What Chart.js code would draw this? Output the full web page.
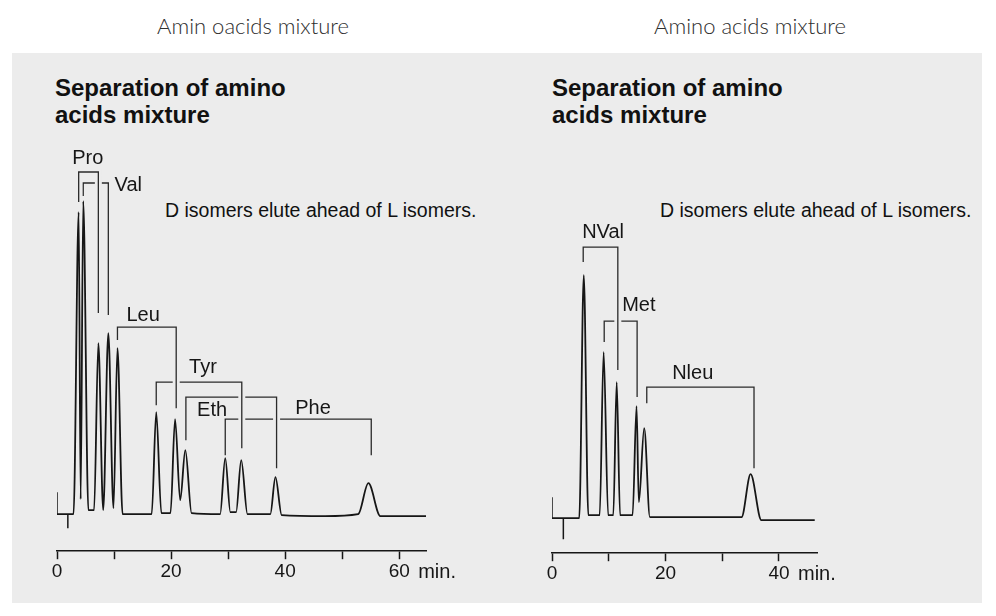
<!DOCTYPE html>
<html lang="en">
<head>
    <meta charset="UTF-8">
    <title>Amino acids mixture</title>
    <style>
        body {
            margin: 0;
            width: 996px;
            height: 616px;
            background: #fff;
            font-family: "Liberation Sans", Arial, Helvetica, sans-serif;
            color: #111;
            position: relative;
            overflow: hidden;
        }
        .heading {
            position: absolute;
            top: 12px;
            width: 300px;
            text-align: center;
            font-family: Lato, "Open Sans", sans-serif;
            font-weight: 300;
            font-size: 22px;
            color: #2e2e2e;
        }
        #panel {
            position: absolute;
            left: 12px;
            top: 53px;
            width: 970px;
            height: 550px;
            background: #ececec;
        }
        .title {
            position: absolute;
            top: 74px;
            font-weight: bold;
            font-size: 24px;
            line-height: 27px;
        }
        .note {
            position: absolute;
            top: 200px;
            font-size: 19.5px;
            line-height: 20px;
        }
        canvas {
            position: absolute;
            top: 53px;
        }
    </style>
</head>
<body>
    <div class="heading" style="left:103px">Amin oacids mixture</div>
    <div class="heading" style="left:600px">Amino acids mixture</div>
    <div id="panel"></div>
    <div class="title" style="left:55px">Separation of amino<br>acids mixture</div>
    <div class="title" style="left:552px">Separation of amino<br>acids mixture</div>
    <div class="note" style="left:165px">D isomers elute ahead of L isomers.</div>
    <div class="note" style="left:660px">D isomers elute ahead of L isomers.</div>
    <canvas id="left-chart" width="470" height="550" style="left:12px"></canvas>
    <canvas id="right-chart" width="488" height="550" style="left:494px"></canvas>

    <script src="https://cdn.jsdelivr.net/npm/chart.js"></script>
    <script>
        // left run: retention time (min) and detector signal
        const leftTimes  = [0, 2.9, 3.8, 4.15, 4.6, 5.5, 6.5, 7.25, 8.1, 9.0, 9.9, 10.6, 11.5,
                            16.6, 17.4, 18.3, 19.9, 20.7, 21.6, 22.5, 23.6, 28.6, 29.5, 30.4,
                            31.4, 32.3, 33.4, 37.4, 38.3, 39.4, 47, 52.8, 54.6, 56.7, 64.7];
        const leftSignal = [0, 0, 302, 15, 313, 4, 4, 171, 4, 181, 6, 166, 0,
                            0, 102, 1, 1, 95, 14, 64, 1, 0, 56, 2,
                            2, 54, 0, 0, 37, -1, -2, 0, 31, -2, -2];
        // start step and injection mark
        const leftMarkTimes  = [0, 0, 1.9, 1.9];
        const leftMarkSignal = [22, 0, 0, -14];
        const leftTicks = [0, 10, 20, 30, 40, 50, 60];
        const leftTickLabels = [0, 20, 40, 60];
        const leftMax = 64.7;

        // D/L pairs
        const leftNames      = ['Pro', 'Val', 'Leu', 'Tyr', 'Eth', 'Phe'];
        const leftDTime      = [3.8, 4.6, 10.6, 17.4, 22.6, 29.5];
        const leftLTime      = [7.25, 9.0, 20.9, 32.4, 38.5, 55.1];
        const leftLevel      = [342, 331, 187, 132, 117, 95];
        const leftDLegEnd    = [312, 318, 174, 109, 74, 59];
        const leftLLegEnd    = [201, 199, 106, 66, 46, 59];
        const leftLabelTime  = [5.4, 12.5, 15.1, 25.6, 27.2, 44.9];
        const leftLabelLevel = [356, 329, 199, 147, 104, 106];

        // right run
        const rightTimes  = [0, 4.8, 5.6, 6.4, 8.4, 9.1, 9.9, 10.8, 11.4, 12.0, 14.2, 14.9,
                             15.3, 16.25, 17.25, 33.4, 35.0, 36.9, 46.3];
        const rightSignal = [0, 0, 243, 3, 3, 166, 3, 3, 136, 3, 3, 112,
                             16, 90, 1, 1, 44, -2, -2];
        const rightMarkTimes  = [0, 0, 2.0, 2.0];
        const rightMarkSignal = [21, 0, 0, -21];
        const rightTicks = [0, 10, 20, 30, 40];
        const rightTickLabels = [0, 20, 40];
        const rightMax = 46.7;

        const rightNames      = ['NVal', 'Met', 'Nleu'];
        const rightDTime      = [5.5, 9.2, 16.7];
        const rightLTime      = [11.6, 15.0, 35.6];
        const rightLevel      = [271, 197, 131];
        const rightDLegEnd    = [256, 176, 115];
        const rightLLegEnd    = [148, 121, 50];
        const rightLabelTime  = [9.0, 15.3, 24.8];
        const rightLabelLevel = [286, 213, 145];

        const FONT = '"Liberation Sans", Arial, Helvetica, sans-serif';
        const INK = '#161616';
        const PANEL = '#ececec';

        function points(times, values) {
            return times.map((t, i) => ({ x: t, y: values[i] }));
        }

        // pairs of points become separate straight segments
        function segments(times, values) {
            const out = [];
            for (let i = 0; i < times.length; i += 2) {
                if (i > 0) out.push({ x: times[i], y: null });
                out.push({ x: times[i], y: values[i] }, { x: times[i + 1], y: values[i + 1] });
            }
            return out;
        }

        const bracketPlugin = {
            id: 'brackets',
            afterDatasetsDraw(chart, args, opts) {
                const { ctx } = chart;
                const x = chart.scales.x, y = chart.scales.y;
                const b = opts.pairs;
                ctx.save();
                ctx.lineCap = 'butt';
                ctx.lineJoin = 'miter';
                // last pair first so the earlier ones sit on top with a gap
                for (let i = b.names.length - 1; i >= 0; i--) {
                    const x1 = x.getPixelForValue(b.dTime[i]);
                    const x2 = x.getPixelForValue(b.lTime[i]);
                    const yl = y.getPixelForValue(b.level[i]);
                    ctx.beginPath();
                    ctx.moveTo(x1, y.getPixelForValue(b.dEnd[i]));
                    ctx.lineTo(x1, yl);
                    ctx.lineTo(x2, yl);
                    ctx.lineTo(x2, y.getPixelForValue(b.lEnd[i]));
                    ctx.strokeStyle = PANEL;
                    ctx.lineWidth = 7;
                    ctx.stroke();
                    ctx.strokeStyle = '#2a2a2a';
                    ctx.lineWidth = 1.3;
                    ctx.stroke();
                }
                ctx.fillStyle = INK;
                ctx.font = '20px ' + FONT;
                ctx.textAlign = 'center';
                ctx.textBaseline = 'middle';
                b.names.forEach((name, i) => {
                    ctx.fillText(name, x.getPixelForValue(b.labelTime[i]), y.getPixelForValue(b.labelLevel[i]));
                });
                // unit after the last tick label
                ctx.textAlign = 'left';
                ctx.textBaseline = 'alphabetic';
                ctx.fillText('min.', x.getPixelForValue(opts.unitAt) + 19, x.top + 27);
                ctx.restore();
            }
        };

        function makeChart(id, cfg) {
            return new Chart(document.getElementById(id), {
                type: 'line',
                data: {
                    datasets: [{
                        data: points(cfg.times, cfg.signal),
                        borderColor: INK,
                        borderWidth: 1.8,
                        pointRadius: 0,
                        cubicInterpolationMode: 'monotone',
                        fill: false
                    }, {
                        data: segments(cfg.markTimes, cfg.markSignal),
                        borderColor: INK,
                        borderWidth: 1.5,
                        pointRadius: 0,
                        tension: 0,
                        spanGaps: false
                    }]
                },
                options: {
                    responsive: false,
                    devicePixelRatio: 1,
                    animation: false,
                    layout: { padding: cfg.padding },
                    plugins: {
                        legend: { display: false },
                        tooltip: { enabled: false },
                        brackets: { pairs: cfg.pairs, unitAt: cfg.tickLabels[cfg.tickLabels.length - 1] }
                    },
                    scales: {
                        x: {
                            type: 'linear',
                            min: 0,
                            max: cfg.max,
                            afterBuildTicks: scale => { scale.ticks = cfg.ticks.map(v => ({ value: v })); },
                            border: { display: true, color: INK, width: 1.5 },
                            grid: { drawOnChartArea: false, drawTicks: true, tickLength: 8, tickColor: INK, tickWidth: 1.5 },
                            ticks: {
                                autoSkip: false,
                                maxRotation: 0,
                                padding: 1,
                                color: INK,
                                font: { family: FONT, size: 19 },
                                callback: v => cfg.tickLabels.includes(v) ? String(v) : ''
                            }
                        },
                        y: { display: false, min: cfg.yMin, max: cfg.yMax }
                    }
                },
                plugins: [bracketPlugin]
            });
        }

        makeChart('left-chart', {
            times: leftTimes, signal: leftSignal,
            markTimes: leftMarkTimes, markSignal: leftMarkSignal,
            ticks: leftTicks, tickLabels: leftTickLabels, max: leftMax,
            yMin: -37, yMax: 374,
            padding: { left: 45, right: 56, top: 87, bottom: 19 },
            pairs: {
                names: leftNames, dTime: leftDTime, lTime: leftLTime, level: leftLevel,
                dEnd: leftDLegEnd, lEnd: leftLLegEnd, labelTime: leftLabelTime, labelLevel: leftLabelLevel
            }
        });

        makeChart('right-chart', {
            times: rightTimes, signal: rightSignal,
            markTimes: rightMarkTimes, markSignal: rightMarkSignal,
            ticks: rightTicks, tickLabels: rightTickLabels, max: rightMax,
            yMin: -35, yMax: 378,
            padding: { left: 58, right: 165, top: 87, bottom: 17 },
            pairs: {
                names: rightNames, dTime: rightDTime, lTime: rightLTime, level: rightLevel,
                dEnd: rightDLegEnd, lEnd: rightLLegEnd, labelTime: rightLabelTime, labelLevel: rightLabelLevel
            }
        });
    </script>
</body>
</html>
